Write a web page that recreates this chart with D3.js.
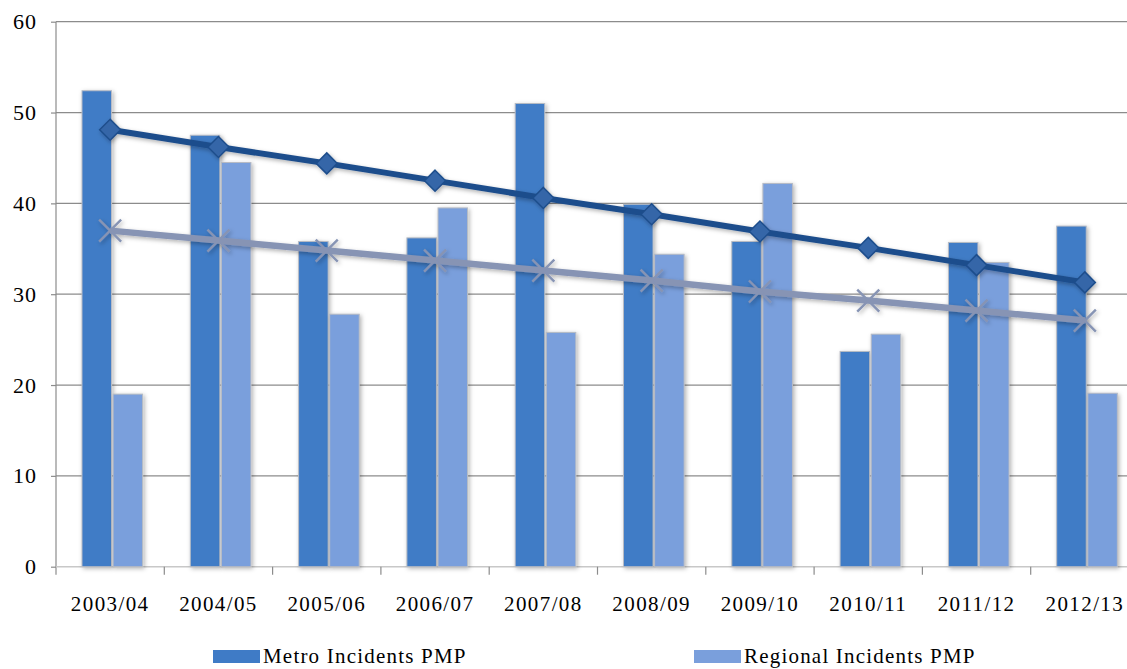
<!DOCTYPE html>
<html>
<head>
<meta charset="utf-8">
<script src="https://cdn.jsdelivr.net/npm/d3@7"></script>
<style>
  html, body { margin: 0; padding: 0; background: #fff; }
  svg { display: block; }
  text { font-family: "Liberation Serif", "DejaVu Serif", serif; fill: #000; }
</style>
</head>
<body>
<script>
const categories = ["2003/04","2004/05","2005/06","2006/07","2007/08","2008/09","2009/10","2010/11","2011/12","2012/13"];
const metroIncidents = [52.4, 47.5, 35.8, 36.2, 51.0, 39.9, 35.8, 23.7, 35.7, 37.5];
const regionalIncidents = [19.0, 44.5, 27.8, 39.5, 25.8, 34.4, 42.2, 25.6, 33.5, 19.1];
const metroTrend = [48.1, 46.2, 44.4, 42.5, 40.6, 38.8, 36.9, 35.1, 33.2, 31.3];
const regionalTrend = [37.0, 35.9, 34.8, 33.7, 32.6, 31.5, 30.3, 29.3, 28.2, 27.1];
const yTicks = [0, 10, 20, 30, 40, 50, 60];
const seriesNames = ["Metro Incidents PMP", "Regional Incidents PMP"];

const W = 1127, H = 669;
const svg = d3.select("body").append("svg").attr("width", W).attr("height", H);

const defs = svg.append("defs");
const f = defs.append("filter").attr("id","shadow").attr("x","-30%").attr("y","-10%").attr("width","160%").attr("height","120%");
f.append("feDropShadow").attr("dx",1.5).attr("dy",1.5).attr("stdDeviation",2).attr("flood-color","#000").attr("flood-opacity",0.3);
const f2 = defs.append("filter").attr("id","lshadow").attr("x","-10%").attr("y","-50%").attr("width","120%").attr("height","200%");
f2.append("feDropShadow").attr("dx",1.5).attr("dy",2).attr("stdDeviation",2).attr("flood-color","#000").attr("flood-opacity",0.3);

const x0 = 56, x1 = 1139;
const x = d3.scaleBand().domain(categories).range([x0, x1]);
const y = d3.scaleLinear().domain([0, 60]).range([566.7, 21.7]);
const sub = d3.scaleBand().domain(["metro","regional"])
  .range([x.bandwidth()*0.24, x.bandwidth()*0.80]).paddingInner(0.05);

// gridlines
svg.append("g").selectAll("line").data(yTicks.filter(d => d > 0)).join("line")
  .attr("x1", x0).attr("x2", W).attr("y1", d => y(d)).attr("y2", d => y(d))
  .attr("stroke", "#8c8c8c").attr("stroke-width", 1.2);

// y axis
const yAxis = d3.axisLeft(y).tickValues(yTicks).tickSize(5).tickPadding(14);
const gy = svg.append("g").attr("transform", `translate(${x0},0)`).call(yAxis);
gy.select(".domain").attr("stroke", "#8c8c8c").attr("stroke-width", 1.2).attr("d", `M0,${y(60)}V${y(0)+8}`);
gy.selectAll(".tick line").attr("stroke", "#8c8c8c").attr("stroke-width", 1.2);
gy.selectAll(".tick text").style("font-size", "22px").attr("letter-spacing", "1px").attr("fill", "#000");

// x axis
const xAxis = d3.axisBottom(x).tickSize(0).tickPadding(29);
const gx = svg.append("g").attr("transform", `translate(0,${y(0)})`).call(xAxis);
gx.select(".domain").attr("stroke", "#c8c8c8").attr("stroke-width", 1.5).attr("d", `M${x0},0H${W}`);
gx.selectAll(".tick text").style("font-size", "21px").attr("letter-spacing", "1.4px").attr("fill", "#000");
// boundary ticks
svg.append("g").selectAll("line").data(categories.slice(1)).join("line")
  .attr("x1", d => x(d)).attr("x2", d => x(d)).attr("y1", y(0)).attr("y2", y(0) + 8)
  .attr("stroke", "#8c8c8c").attr("stroke-width", 1.2);

// bars
const rows = categories.map((c, i) => ({c, metro: metroIncidents[i], regional: regionalIncidents[i]}));
const colors = {metro: "#3f7bc6", regional: "#7a9fdc"};
const barG = svg.append("g");
["metro","regional"].forEach(k => {
  barG.append("g").selectAll("rect").data(rows).join("rect")
    .attr("x", d => x(d.c) + sub(k)).attr("width", sub.bandwidth())
    .attr("y", d => y(d[k])).attr("height", d => y(0) - y(d[k]))
    .attr("fill", colors[k]).attr("stroke", "#b8bcc4").attr("stroke-width", 1)
    .attr("filter", "url(#shadow)");
});

// trend lines
const cx = c => x(c) + x.bandwidth()/2;
const line = d3.line().x(d => cx(d.c)).y(d => y(d.v));
const rTrend = categories.map((c, i) => ({c, v: regionalTrend[i]}));
const mTrend = categories.map((c, i) => ({c, v: metroTrend[i]}));

const rg = svg.append("g").attr("filter", "url(#lshadow)");
rg.append("path").datum(rTrend).attr("d", line).attr("fill", "none")
  .attr("stroke", "#8794b4").attr("stroke-width", 6.5).attr("stroke-linejoin", "round");
rg.selectAll("path.x").data(rTrend).join("path").attr("class","x")
  .attr("d", d => { const px = cx(d.c), py = y(d.v), s = 11; return `M${px-s},${py-s}L${px+s},${py+s}M${px-s},${py+s}L${px+s},${py-s}`; })
  .attr("stroke", "#8794b4").attr("stroke-width", 2.4);

const mg = svg.append("g").attr("filter", "url(#lshadow)");
mg.append("path").datum(mTrend).attr("d", line).attr("fill", "none")
  .attr("stroke", "#1f4e8c").attr("stroke-width", 6).attr("stroke-linejoin", "round");
mg.selectAll("path.d").data(mTrend).join("path").attr("class","d")
  .attr("d", d => { const px = cx(d.c), py = y(d.v), s = 10.5; return `M${px},${py-s}L${px+s},${py}L${px},${py+s}L${px-s},${py}Z`; })
  .attr("fill", "#3466a8").attr("stroke", "#1f4e8c").attr("stroke-width", 1.5);

// legend
const legend = [
  {name: seriesNames[0], color: colors.metro, x: 213},
  {name: seriesNames[1], color: colors.regional, x: 694}
];
const lg = svg.append("g");
legend.forEach(l => {
  lg.append("rect").attr("x", l.x).attr("y", 650).attr("width", 47).attr("height", 13).attr("fill", l.color);
  lg.append("text").attr("x", l.x + 50).attr("y", 663).style("font-size", "21px").attr("letter-spacing", "1.2px").text(l.name);
});
</script>
</body>
</html>
